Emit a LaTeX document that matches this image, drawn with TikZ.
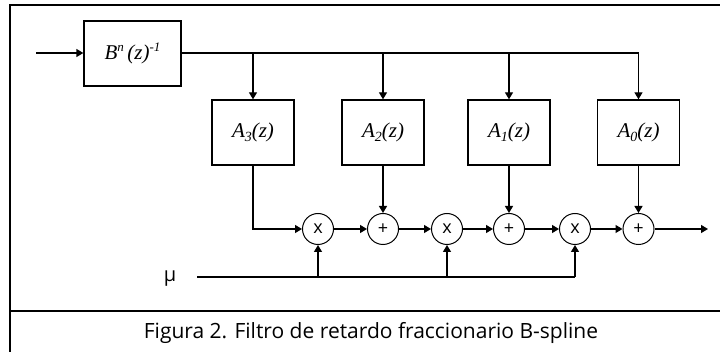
\documentclass[tikz,border=0pt]{standalone}
\usepackage{fontspec}
\setmainfont{Open Sans}
\newfontfamily\serifit{Liberation Serif}
\usetikzlibrary{arrows.meta}
\tikzset{
  box/.style={draw, line width=1.3pt, minimum width=82pt, minimum height=65pt, inner sep=0pt, font=\serifit\itshape\fontsize{21}{21}\selectfont},
  op/.style={draw, circle, line width=1pt, minimum size=31pt, inner sep=0pt, font=\fontsize{18}{18}\selectfont},
  wire/.style={line width=1.3pt},
  arr/.style={wire, -{Triangle[length=7pt,width=8pt]}},
  frame/.style={line width=2pt}
}
\newcommand{\subi}[1]{\raisebox{-0.45ex}{\fontsize{14}{14}\selectfont #1}}
\newcommand{\supi}[1]{\raisebox{0.75ex}{\fontsize{13}{13}\selectfont #1}}
\begin{document}
\begin{tikzpicture}[x=1pt,y=-1pt]
\useasboundingbox (0,0) rectangle (720,352);
\draw[frame] (10,352) -- (10,5) -- (722,5);
\draw[frame] (10,311) -- (722,311);
\node[font=\fontsize{21}{21}\selectfont] (cap) at (371,333) {Figura 2. Filtro de retardo fraccionario B-spline};

\coordinate (in) at (36,53);
\node[box, minimum width=97pt] (B) at (132.5,53.5) {B\supi{n}\,(z)\supi{-1}};
\node[box] (A3) at (253,132.5) {A\subi{3}(z)};
\node[box] (A2) at (383,132.5) {A\subi{2}(z)};
\node[box] (A1) at (509,132.5) {A\subi{1}(z)};
\node[box] (A0) at (638.5,132.5) {A\subi{0}(z)};

\node[op] (m1) at (318,229) {x};
\node[op] (p2) at (383,229) {+};
\node[op] (m2) at (447,229) {x};
\node[op] (p1) at (509,229) {+};
\node[op] (m3) at (575,229) {x};
\node[op] (p0) at (638.5,229) {+};
\coordinate (out) at (708,229);

\node[font=\fontsize{20}{20}\selectfont] (mu) at (170,279) {μ};
\coordinate (mus) at (197,277);

\draw[arr] (in) -- (B.west |- in);
\draw[wire] (B.east |- in) -| (A0.north);
\draw[arr] (A3.north |- in) -- (A3.north);
\draw[arr] (A2.north |- in) -- (A2.north);
\draw[arr] (A1.north |- in) -- (A1.north);
\draw[arr] (A0.north |- in) -- (A0.north);

\draw[arr] (A3.south) |- (m1.west);
\draw[arr] (A2.south) -- (p2.north);
\draw[arr] (A1.south) -- (p1.north);
\draw[arr] (A0.south) -- (p0.north);

\draw[arr] (m1) -- (p2);
\draw[arr] (p2) -- (m2);
\draw[arr] (m2) -- (p1);
\draw[arr] (p1) -- (m3);
\draw[arr] (m3) -- (p0);
\draw[arr] (p0) -- (out);

\draw[wire] (mus) -- (m3.south |- mus);
\draw[arr] (m1.south |- mus) -- (m1.south);
\draw[arr] (m2.south |- mus) -- (m2.south);
\draw[arr] (m3.south |- mus) -- (m3.south);
\end{tikzpicture}
\end{document}
